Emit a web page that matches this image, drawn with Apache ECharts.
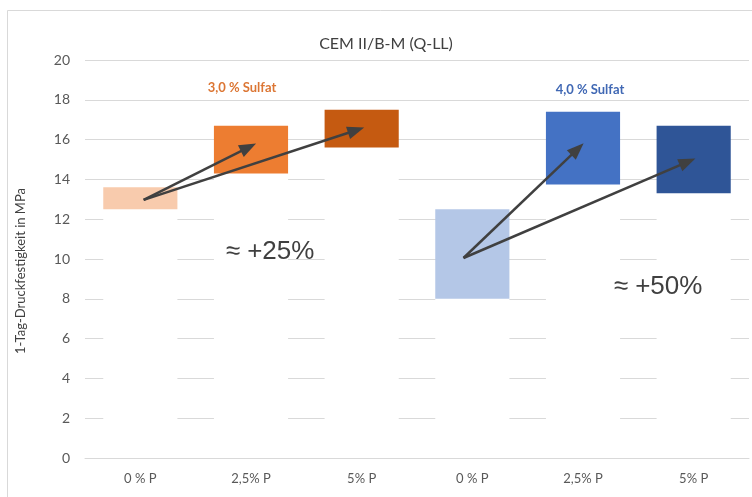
<!DOCTYPE html>
<html>
<head>
<meta charset="utf-8">
<script src="https://cdn.jsdelivr.net/npm/echarts@6/dist/echarts.min.js"></script>
<style>
  html, body { margin: 0; padding: 0; background: #fff; }
  #chart { width: 752px; height: 497px; }
</style>
</head>
<body>
<div id="chart"></div>
<script>
// Categories (phosphate dosage) for the two sulfate levels
const categories = ['0 % P', '2,5% P', '5% P', '0 % P', '2,5% P', '5% P'];
// Range of 1-day compressive strength (MPa) per mixture
const lowerValues = [12.5, 14.3, 15.6, 8.0, 13.75, 13.3];
const upperValues = [13.6, 16.7, 17.5, 12.5, 17.4, 16.7];
const barColors = ['#F8CBAD', '#ED7D31', '#C55A11', '#B4C7E7', '#4472C4', '#2F5597'];
// Trend arrows: [startX, startY, headX, headY] in (category index, MPa)
const arrowsOrange = [[0.03, 12.97, 0.977, 15.61], [0.03, 12.97, 1.95, 16.47]];
const arrowsBlue = [[2.92, 10.05, 3.95, 15.52], [2.92, 10.05, 4.945, 14.88]];
const yTicks = { min: 0, max: 20, interval: 2 };

const chart = echarts.init(document.getElementById('chart'));
const font = 'Lato, "Open Sans", sans-serif';

function arrowLines(list) {
  return list.map(a => [
    { coord: [a[0], a[1]], symbol: 'none' },
    { coord: [a[2], a[3]], symbol: 'triangle', symbolSize: [13, 17] }
  ]);
}

chart.setOption({
  animation: false,
  backgroundColor: '#fff',
  title: {
    text: 'CEM II/B-M (Q-LL)',
    left: 381, top: 31, textAlign: 'center',
    textStyle: { fontFamily: font, fontSize: 16, fontWeight: 'normal', color: '#404040' }
  },
  grid: { left: 85, right: 3, top: 60, bottom: 39 },
  xAxis: [{
    type: 'category',
    data: categories,
    z: 5,
    axisLine: { lineStyle: { color: '#D9D9D9', width: 1 } },
    axisTick: { show: false },
    axisLabel: { fontFamily: font, fontSize: 13, color: '#595959', margin: 14 }
  }, {
    type: 'value', min: -0.5, max: 5.5, show: false
  }],
  yAxis: {
    type: 'value',
    min: yTicks.min, max: yTicks.max, interval: yTicks.interval,
    axisLine: { show: false },
    axisTick: { show: false },
    splitLine: { lineStyle: { color: '#D9D9D9', width: 1 } },
    axisLabel: { fontFamily: font, fontSize: 14, color: '#595959', margin: 15 }
  },
  series: [{
    name: 'base',
    type: 'bar',
    stack: 'range',
    barCategoryGap: '33%',
    silent: true,
    itemStyle: { color: '#FFFFFF' },
    data: lowerValues
  }, {
    name: 'range',
    type: 'bar',
    stack: 'range',
    barCategoryGap: '33%',
    data: upperValues.map((u, i) => ({
      value: +(u - lowerValues[i]).toFixed(2),
      itemStyle: { color: barColors[i] }
    }))
  }, {
    name: 'arrows',
    type: 'line',
    xAxisIndex: 1,
    data: [],
    z: 6,
    markLine: {
      silent: true,
      animation: false,
      label: { show: false },
      lineStyle: { color: '#404040', width: 2.5, type: 'solid' },
      data: arrowLines(arrowsOrange.concat(arrowsBlue))
    }
  }],
  graphic: [{
    type: 'rect',
    shape: { x: 7.5, y: 10.5, width: 760, height: 500 },
    style: { fill: 'none', stroke: '#D9D9D9', lineWidth: 1 },
    silent: true, z: 10
  }, {
    type: 'text',
    x: 21, y: 271, rotation: Math.PI / 2,
    style: {
      text: '1-Tag-Druckfestigkeit in MPa', fontFamily: font, fontSize: 13,
      fill: '#404040', textAlign: 'center', textVerticalAlign: 'middle'
    }
  }, {
    type: 'text', x: 242, y: 88,
    style: {
      text: '3,0 % Sulfat', fontFamily: font, fontSize: 13, fontWeight: 'bold',
      fill: '#DC7634', textAlign: 'center', textVerticalAlign: 'middle'
    }
  }, {
    type: 'text', x: 590, y: 90,
    style: {
      text: '4,0 % Sulfat', fontFamily: font, fontSize: 13, fontWeight: 'bold',
      fill: '#4068B4', textAlign: 'center', textVerticalAlign: 'middle'
    }
  }, {
    type: 'text', x: 270, y: 252, z: 4,
    style: {
      text: '≈ +25%', fontFamily: '"Liberation Sans", Arial, sans-serif', fontSize: 26,
      fill: '#404040', textAlign: 'center', textVerticalAlign: 'middle'
    }
  }, {
    type: 'text', x: 658, y: 287, z: 4,
    style: {
      text: '≈ +50%', fontFamily: '"Liberation Sans", Arial, sans-serif', fontSize: 26,
      fill: '#404040', textAlign: 'center', textVerticalAlign: 'middle',
      backgroundColor: '#FFFFFF', padding: [6, 4, 6, 4]
    }
  }]
});
</script>
</body>
</html>
